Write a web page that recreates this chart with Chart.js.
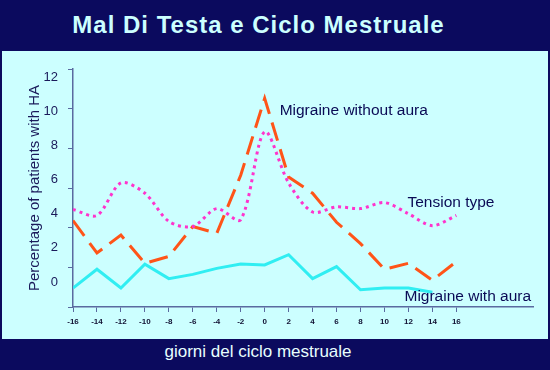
<!DOCTYPE html>
<html lang="it">
<head>
<meta charset="UTF-8">
<title>Mal Di Testa e Ciclo Mestruale</title>
<script src="https://cdn.jsdelivr.net/npm/chart.js"></script>
<style>
    body {
        margin: 0;
        width: 550px;
        height: 370px;
        background: #0b0a5e;
        font-family: "Liberation Sans", Arial, sans-serif;
        position: relative;
        overflow: hidden;
    }
    .titolo {
        position: absolute;
        left: 0; top: 11px;
        width: 517px;
        text-align: center;
        color: #ccffff;
        font-weight: bold;
        font-size: 24px;
        letter-spacing: 1px;
    }
    .pannello {
        position: absolute;
        left: 2px; top: 51px;
        width: 546px; height: 288px;
        background: #ccffff;
    }
    .asse {
        position: absolute;
        left: 0; top: 342px;
        width: 516px;
        text-align: center;
        color: #e8ffff;
        font-size: 17px;
    }
</style>
</head>
<body>
<div class="titolo">Mal Di Testa e Ciclo Mestruale</div>
<div class="pannello"><canvas id="grafico" width="546" height="288"></canvas></div>
<div class="asse">giorni del ciclo mestruale</div>

<script>
// giorni del ciclo
const giorni = [-16, -14, -12, -10, -8, -6, -4, -2, 0, 2, 4, 6, 8, 10, 12, 14, 16];
const etichetteY = [0, 2, 4, 6, 8, 10, 12];

// percentuali
const senzaAura = [3.6, 1.7, 2.75, 1.1, 1.5, 3.25, 2.85, 6.25, 10.75, 6.15, 5.2, 3.5, 2.25, 0.75, 1.1, 0.1, 1.2];
const tensiva = [4.25, 3.9, 5.8, 5.2, 3.55, 3.25, 4.3, 3.65, 8.8, 5.8, 4.1, 4.4, 4.3, 4.65, 4.0, 3.3, 3.9];
const conAura = [-0.35, 0.75, -0.35, 1.05, 0.2, 0.45, 0.8, 1.05, 1.0, 1.6, 0.2, 0.9, -0.45, -0.35, -0.35, -0.6];

const punti = (arr) => arr.map((v, i) => ({ x: giorni[i], y: v }));

// etichette delle serie, disegnate sul grafico
const scritte = {
    id: 'scritte',
    afterDatasetsDraw(chart) {
        const { ctx, scales } = chart;
        const testi = [
            ['Migraine without aura', 1.25, 10.05],
            ['Tension type', 11.92, 4.63],
            ['Migraine with aura', 11.67, -0.88]
        ];
        ctx.save();
        ctx.font = '15.5px "Liberation Sans", Arial, sans-serif';
        ctx.fillStyle = '#0a0a55';
        ctx.textAlign = 'left';
        ctx.textBaseline = 'middle';
        testi.forEach(([t, x, y]) => {
            ctx.fillText(t, scales.x.getPixelForValue(x), scales.y2.getPixelForValue(y));
        });
        ctx.restore();
    }
};

new Chart(document.getElementById('grafico'), {
    type: 'line',
    data: {
        datasets: [
            {
                label: 'Migraine with aura',
                data: punti(conAura),
                borderColor: '#30eef2',
                borderWidth: 3,
                pointRadius: 0,
                tension: 0,
                yAxisID: 'y2'
            },
            {
                label: 'Tension type',
                data: punti(tensiva),
                borderColor: '#ff33cc',
                borderWidth: 3,
                borderDash: [3, 4],
                pointRadius: 0,
                tension: 0.3,
                yAxisID: 'y2'
            },
            {
                label: 'Migraine without aura',
                data: punti(senzaAura),
                borderColor: '#ff5418',
                borderWidth: 3,
                borderDash: [19, 9],
                pointRadius: 0,
                tension: 0,
                yAxisID: 'y2'
            }
        ]
    },
    options: {
        responsive: false,
        animation: false,
        layout: { padding: { top: 18, right: 15, left: 0, bottom: 0 } },
        plugins: { legend: { display: false }, tooltip: { enabled: false } },
        scales: {
            x: {
                type: 'linear',
                min: -16,
                max: 22.4,
                afterBuildTicks: (s) => { s.ticks = giorni.map(v => ({ value: v })); },
                afterFit: (s) => { s.height = 32; },
                grid: { drawOnChartArea: false, drawTicks: true, tickLength: 5, color: '#5a6aa0' },
                border: { color: '#5a6aa0', width: 1.5 },
                ticks: {
                    autoSkip: false,
                    maxRotation: 0,
                    padding: 5,
                    color: '#111133',
                    font: { size: 8, weight: 'bold', family: '"Liberation Sans", Arial, sans-serif' }
                }
            },
            y: {
                position: 'left',
                weight: 0,
                min: 0,
                max: 12,
                afterBuildTicks: (s) => { s.ticks = etichetteY.map(v => ({ value: v })); },
                afterFit: (s) => { s.width = 7; },
                grid: { drawOnChartArea: false, drawTicks: true, tickLength: 5, color: '#5a6aa0' },
                border: { color: '#5a6aa0', width: 1.5 },
                ticks: {
                    padding: 3,
                    color: '#111133',
                    font: { size: 8, weight: 'bold', family: '"Liberation Sans", Arial, sans-serif' },
                    callback: (v) => v === 0 ? '0' : ''
                }
            },
            y2: {
                position: 'left',
                weight: 1,
                min: -1.46,
                max: 12.47,
                afterBuildTicks: (s) => { s.ticks = etichetteY.map(v => ({ value: v })); },
                afterFit: (s) => { s.width = 64; },
                grid: { display: false, drawTicks: false },
                border: { display: false },
                ticks: {
                    padding: 8,
                    color: '#1a1a5a',
                    font: { size: 13, family: '"Liberation Sans", Arial, sans-serif' }
                },
                title: {
                    display: true,
                    text: 'Percentage of patients with HA',
                    color: '#1a1a5a',
                    padding: { top: 24, bottom: 0 },
                    font: { size: 15, family: '"Liberation Sans", Arial, sans-serif' }
                }
            }
        }
    },
    plugins: [scritte]
});
</script>
</body>
</html>
